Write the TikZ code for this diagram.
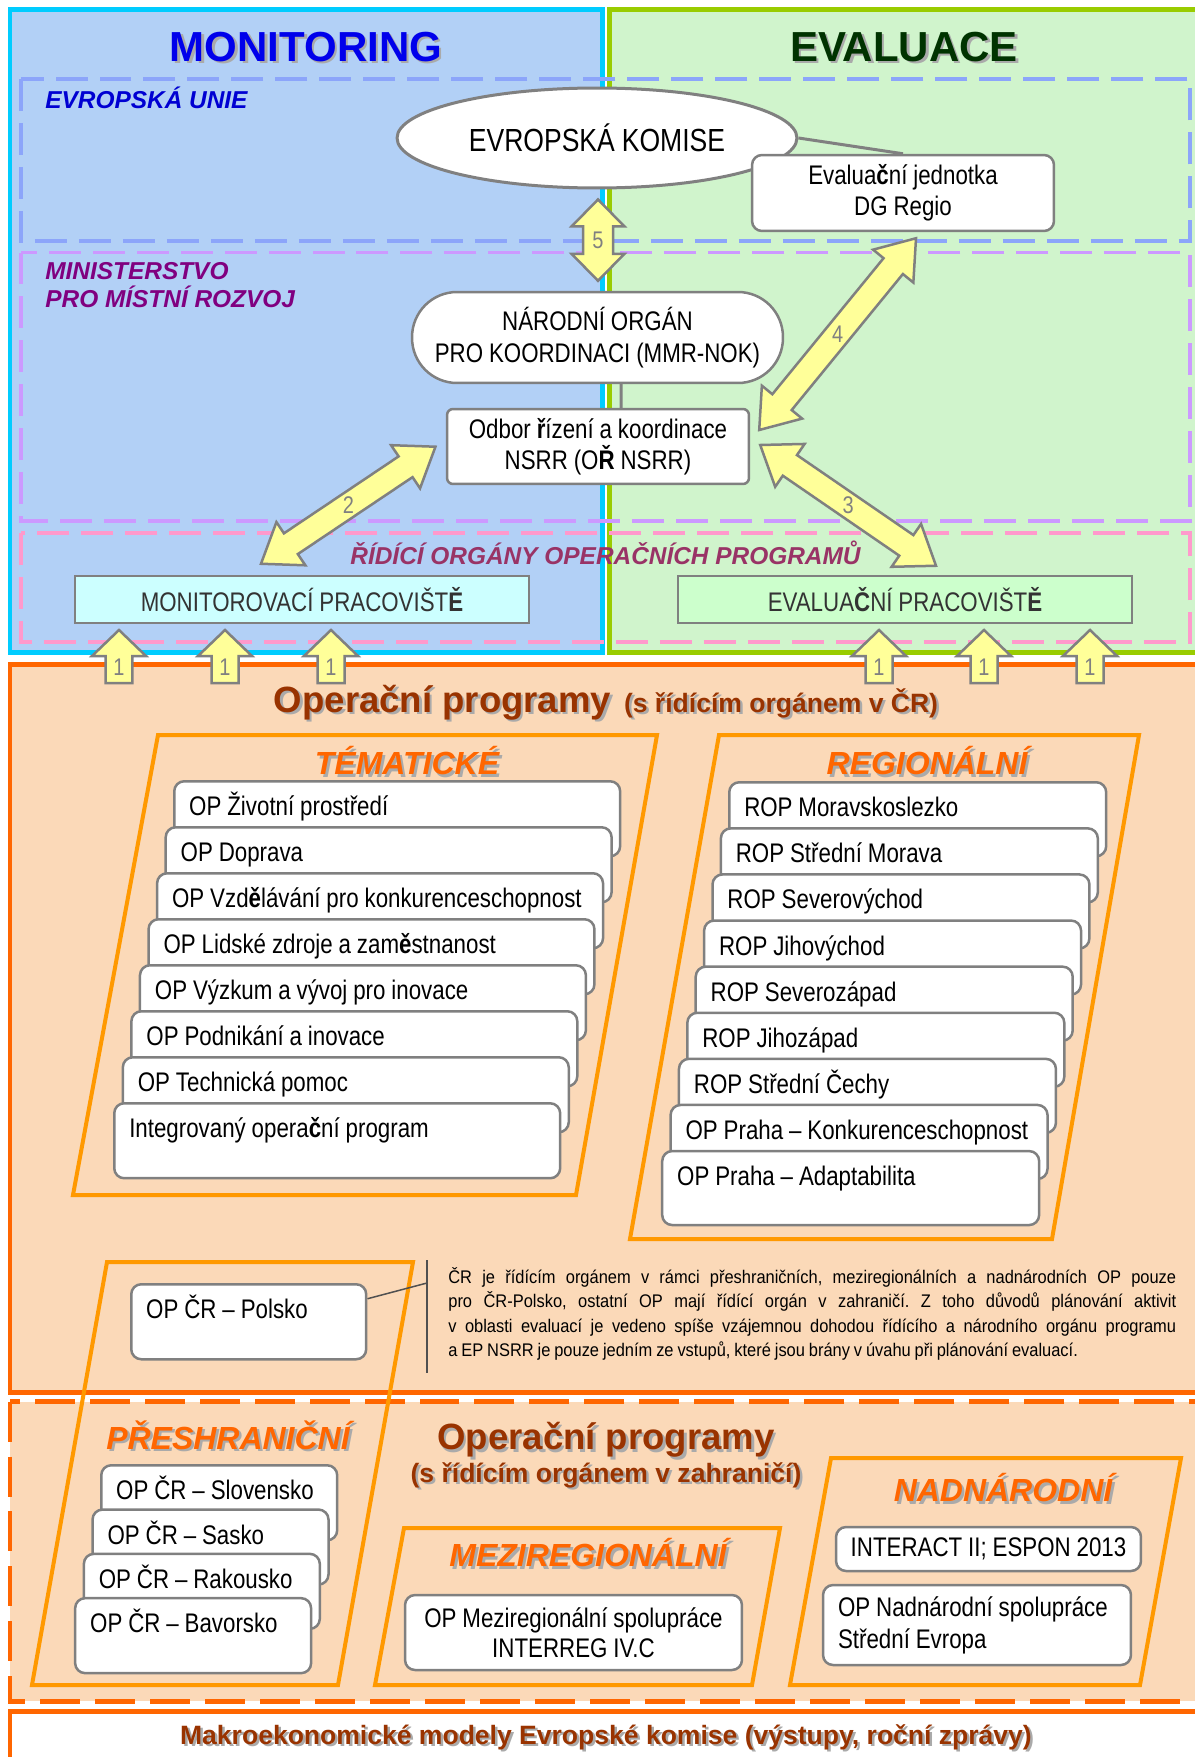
\documentclass[tikz,border=0pt]{standalone}
\usepackage{fontspec}
\setmainfont{Liberation Sans}
\newfontfamily\nf[FakeStretch=0.83,WordSpace=0.95]{Liberation Sans}
\newfontfamily\pf[FakeStretch=0.9,WordSpace=0.85]{Liberation Sans}
\usetikzlibrary{shapes.geometric,calc}
\definecolor{cyanb}{RGB}{0,204,255}
\definecolor{greenb}{RGB}{153,204,0}
\definecolor{orangeb}{RGB}{255,102,0}
\definecolor{paraor}{RGB}{255,153,0}
\definecolor{bluebg}{RGB}{178,208,246}
\definecolor{greenbg}{RGB}{208,244,204}
\definecolor{orangebg}{RGB}{251,217,184}
\definecolor{eudash}{RGB}{140,165,250}
\definecolor{mmrdash}{RGB}{204,153,255}
\definecolor{rodash}{RGB}{255,153,204}
\definecolor{monblue}{RGB}{0,0,235}
\definecolor{evgreen}{RGB}{0,51,0}
\definecolor{eublue}{RGB}{0,0,210}
\definecolor{mmrpurple}{RGB}{128,0,128}
\definecolor{ropink}{RGB}{153,51,102}
\definecolor{headorange}{RGB}{255,102,0}
\definecolor{opbrown}{RGB}{153,51,0}
\definecolor{boxgray}{RGB}{128,128,128}
\definecolor{arrfill}{RGB}{255,255,153}
\definecolor{shgray}{RGB}{170,170,170}
\definecolor{moncyan}{RGB}{204,255,255}
\definecolor{evfill}{RGB}{204,255,204}
\definecolor{txtgray}{RGB}{51,51,51}
\definecolor{bargray}{RGB}{80,80,80}

\newcommand\blkarrow[6]{%
  \path (#1); \pgfgetlastxy{\ax}{\ay}%
  \path (#2); \pgfgetlastxy{\bx}{\by}%
  \pgfmathsetmacro\aang{atan2(\by-\ay,\bx-\ax)}%
  \pgfmathsetmacro\alen{veclen(\bx-\ax,\by-\ay)}%
  \pgfmathsetmacro\ahl{#3*0.569055}%
  \pgfmathsetmacro\ahw{#4*0.569055}%
  \pgfmathsetmacro\asw{#5*0.569055}%
  \pgfmathsetmacro\alb{\alen-\ahl}%
  \begin{scope}[shift={(\ax,\ay)}, rotate=\aang]
  \ifnum#6=1
   \draw[blockarr] (0pt,0pt) -- (\ahl pt,\ahw pt) -- (\ahl pt,\asw pt) -- (\alb pt,\asw pt) -- (\alb pt,\ahw pt) -- (\alen pt,0pt) -- (\alb pt,-\ahw pt) -- (\alb pt,-\asw pt) -- (\ahl pt,-\asw pt) -- (\ahl pt,-\ahw pt) -- cycle;
  \else
   \draw[blockarr] (0pt,\asw pt) -- (\alb pt,\asw pt) -- (\alb pt,\ahw pt) -- (\alen pt,0pt) -- (\alb pt,-\ahw pt) -- (\alb pt,-\asw pt) -- (0pt,-\asw pt) -- cycle;
  \fi
  \end{scope}}

\newcommand\shnode[5]{%
  \node[#2,text=shgray] (#1-sh) at ($(#3,#4)+(2.5,2.5)$) {#5};
  \node[#2] (#1) at (#3,#4) {#5};}

\begin{document}
\begin{tikzpicture}[x=0.02cm, y=-0.02cm,
  title/.style={font=\fontsize{23.9pt}{28pt}\selectfont\bfseries, inner sep=0pt},
  seclab/.style={font=\fontsize{13.9pt}{15.9pt}\selectfont\bfseries\itshape, inner sep=0pt},
  topbox/.style={draw=boxgray, fill=white, line width=0.05cm, align=center, inner sep=0pt, font=\nf\fontsize{15.3pt}{17.8pt}\selectfont},
  conn/.style={draw=boxgray, line width=0.06cm},
  prac/.style={draw=boxgray, line width=0.05cm, minimum width=9.08cm, minimum height=0.94cm, inner sep=0pt, text=txtgray, font=\nf\fontsize{15.3pt}{18pt}\selectfont},
  blockarr/.style={draw=boxgray, fill=arrfill, line width=0.05cm, line join=miter},
  arrlab/.style={text=boxgray, font=\nf\fontsize{13.7pt}{16pt}\selectfont, inner sep=0pt},
  para/.style={draw=paraor, line width=0.08cm, line join=miter},
  cathead/.style={text=headorange, font=\fontsize{18.2pt}{22pt}\selectfont\bfseries\itshape, inner sep=0pt},
  optitle/.style={text=opbrown, font=\bfseries, inner sep=0pt},
  stackbox/.style={draw=boxgray, fill=white, line width=0.05cm, rounded corners=0.2cm, anchor=north west, inner xsep=0.3cm, inner ysep=0pt, align=flush left, text height=0.69cm, font=\nf\fontsize{15.3pt}{17.6pt}\selectfont},
  thbox/.style={stackbox, text width=8.32cm, text depth=0.81cm},
  rgbox/.style={stackbox, text width=6.94cm, text depth=0.79cm},
  prbox/.style={stackbox, text width=4.12cm, text depth=0.81cm},
  dashpat/.style={line width=0.08cm, dash pattern=on 0.64cm off 0.24cm}
]
\useasboundingbox (0,0) rectangle (1195,1757);
\clip (0,0) rectangle (1195,1757);
\fill[white] (0,0) rectangle (1195,1757);

% ---------- panels ----------
\draw[draw=cyanb, line width=0.1cm, fill=bluebg] (10,10) rectangle (602,652.5);
\draw[draw=greenb, line width=0.1cm, fill=greenbg] (609.5,10) rectangle (1200,652.5);
\draw[draw=orangeb, line width=0.1cm, fill=orangebg] (10,664.5) rectangle (1200,1392.5);
\draw[draw=orangeb, line width=0.1cm, fill=orangebg, dash pattern=on 0.8cm off 0.3cm] (10,1401.5) rectangle (1200,1701);
\draw[draw=orangeb, line width=0.1cm, fill=white] (10,1711.5) rectangle (1200,1800);

% ---------- dashed level frames ----------
\draw[dashpat, draw=eudash] (21,79) rectangle (1190,241);
\draw[dashpat, draw=mmrdash] (21,252.5) rectangle (1190,521);
\draw[dashpat, draw=rodash] (21,533) rectangle (1190,642);

% ---------- titles ----------
\shnode{montitle}{title, text=monblue}{306}{47}{MONITORING}
\shnode{evtitle}{title, text=evgreen}{904}{47}{EVALUACE}
\node[seclab, text=eublue, anchor=west] (eu) at (45,98) {EVROPSKÁ UNIE};
\node[seclab, text=mmrpurple, anchor=west, align=left] (mmr) at (45,285) {MINISTERSTVO\\PRO MÍSTNÍ ROZVOJ};
\node[seclab, text=ropink] (ro) at (605.5,553) {ŘÍDÍCÍ ORGÁNY OPERAČNÍCH PROGRAMŮ};

% ---------- top nodes ----------
\node[ellipse, draw=boxgray, line width=0.06cm, fill=white, minimum width=8cm, minimum height=2cm, inner sep=0pt, font=\nf\fontsize{18.2pt}{22pt}\selectfont] (ek) at (597,138) {EVROPSKÁ KOMISE};
\node[topbox, rounded corners=0.2cm, minimum width=6.04cm, minimum height=1.52cm] (ej) at (903,193) {Evalua\textbf{č}ní jednotka\\DG Regio};
\draw[conn] (ek.east) -- (ej.north);
\node[topbox, rounded corners=0.9cm, minimum width=7.42cm, minimum height=1.82cm] (nok) at (597.5,337.5) {NÁRODNÍ ORGÁN\\PRO KOORDINACI (MMR-NOK)};
\node[topbox, rounded corners=0.12cm, minimum width=6.04cm, minimum height=1.5cm] (odbor) at (598,446.5) {Odbor \textbf{ř}ízení a koordinace\\NSRR (O\textbf{Ř} NSRR)};
\draw[conn] ($(nok.south)+(23.5,0)$) -- ($(odbor.north)+(23,0)$);

\node[prac, fill=moncyan] (monp) at (302,599.5) {MONITOROVACÍ PRACOVIŠT\textbf{Ě}};
\node[prac, fill=evfill] (evp) at (905,599.5) {EVALUA\textbf{Č}NÍ PRACOVIŠT\textbf{Ě}};

% ---------- block arrows ----------
\coordinate (a5a) at ($(ek.south)+(1,10)$);
\coordinate (a5b) at ($(nok.north)+(0.5,-10)$);
\coordinate (a2a) at ($(monp.north)+(-41,-11)$);
\coordinate (a2b) at ($(odbor.west)+(-10,0)$);
\coordinate (a3a) at ($(odbor.east)+(10,-1.5)$);
\coordinate (a3b) at ($(evp.north)+(31,-9)$);
\coordinate (a4a) at ($(odbor.east)+(9,-16.5)$);
\coordinate (a4b) at ($(ej.south)+(13,6)$);
\blkarrow{a5a}{a5b}{27}{26.5}{15}{1}
\blkarrow{a2a}{a2b}{36}{26}{12.5}{1}
\blkarrow{a3a}{a3b}{36}{26}{12.5}{1}
\blkarrow{a4a}{a4b}{36}{26}{12.5}{1}
\node[arrlab] (l5) at ($(a5a)!0.5!(a5b)$) {5};
\node[arrlab] (l2) at ($(a2a)!0.5!(a2b)$) {2};
\node[arrlab] (l3) at ($(a3a)!0.5!(a3b)$) {3};
\node[arrlab] (l4) at ($(a4a)!0.5!(a4b)$) {4};

\foreach \i/\xx in {1/119,2/225,3/331,4/879,5/984,6/1090}{
  \coordinate (ua\i) at (\xx,683);
  \coordinate (ub\i) at (\xx,630);
  \blkarrow{ua\i}{ub\i}{26}{27}{13.5}{0}
  \node[arrlab] (l1-\i) at (\xx,667) {1};
}

% ---------- OP s ŘO v ČR ----------
\shnode{op1}{optitle, anchor=base}{606}{712}{{\fontsize{20.8pt}{25pt}\selectfont Operační programy}\hspace{0.26cm}{\fontsize{15.1pt}{18pt}\selectfont (s řídícím orgánem v ČR)}}

\draw[para] (158,735) -- (657,735) -- (576,1195) -- (73,1195) -- cycle;
\shnode{tem}{cathead}{407}{761}{TÉMATICKÉ}
\foreach \i/\t in {0/{OP Životní prostředí},1/{OP Doprava},2/{OP Vzd\textbf{ě}lávání pro konkurenceschopnost},3/{OP Lidské zdroje a zam\textbf{ě}stnanost},4/{OP Výzkum a vývoj pro inovace},5/{OP Podnikání a inovace},6/{OP Technická pomoc},7/{Integrovaný opera\textbf{č}ní program}}{
  \node[thbox] (tb\i) at ({173-8.57*\i},{780+46*\i}) {\t};
}

\draw[para] (719,735) -- (1139,735) -- (1052,1239) -- (630,1239) -- cycle;
\shnode{reg}{cathead}{927}{761}{REGIONÁLNÍ}
\foreach \i/\t in {0/{ROP Moravskoslezko},1/{ROP Střední Morava},2/{ROP Severovýchod},3/{ROP Jihovýchod},4/{ROP Severozápad},5/{ROP Jihozápad},6/{ROP Střední Čechy},7/{OP Praha – Konkurenceschopnost},8/{OP Praha – Adaptabilita}}{
  \node[rgbox] (rb\i) at ({728-8.38*\i},{781+46.1*\i}) {\t};
}

% ---------- cross-border ----------
\draw[para] (107,1262) -- (413,1262) -- (338,1685) -- (32,1685) -- cycle;
\node[stackbox, text width=4.1cm, text depth=0.81cm] (pol) at (130,1283) {OP ČR – Polsko};
\coordinate (barT) at (427,1260);
\coordinate (barB) at (427,1373);
\coordinate (barM) at (427,1283);
\draw[bargray, line width=0.03cm] (barT) -- (barB);
\draw[bargray, line width=0.03cm] ($(pol.east)+(0,-23)$) -- (barM);
\node[anchor=north west, text width=14.56cm, align=justify, inner sep=0pt, font=\pf\fontsize{10.4pt}{13.9pt}\selectfont\frenchspacing] (expl) at (448,1267) {ČR je řídícím orgánem v rámci přeshraničních, meziregionálních a nadnárodních OP pouze\linebreak pro ČR-Polsko, ostatní OP mají řídící orgán v zahraničí. Z toho důvodů plánování aktivit\linebreak v oblasti evaluací je vedeno spíše vzájemnou dohodou řídícího a národního orgánu programu\linebreak a EP NSRR je pouze jedním ze vstupů, které jsou brány v úvahu při plánování evaluací.};

\shnode{pres}{cathead}{228}{1435}{PŘESHRANIČNÍ}
\foreach \i/\t in {0/{OP ČR – Slovensko},1/{OP ČR – Sasko},2/{OP ČR – Rakousko},3/{OP ČR – Bavorsko}}{
  \node[prbox] (pb\i) at ({100-8.7*\i},{1464+44.3*\i}) {\t};
}

% ---------- OP s ŘO v zahraničí ----------
\shnode{op2a}{optitle, font=\fontsize{20.8pt}{25pt}\selectfont\bfseries}{606}{1440}{Operační programy}
\shnode{op2b}{optitle, font=\fontsize{15.1pt}{18pt}\selectfont\bfseries}{606}{1475}{(s řídícím orgánem v zahraničí)}

\draw[para] (404,1528) -- (780,1528) -- (752,1685) -- (375,1685) -- cycle;
\shnode{mez}{cathead}{588}{1553}{MEZIREGIONÁLNÍ}
\node[topbox, rounded corners=0.2cm, minimum width=6.74cm, minimum height=1.5cm, font=\nf\fontsize{15.3pt}{17pt}\selectfont] (mezb) at (573.5,1632.5) {OP Meziregionální spolupráce\\INTERREG IV.C};

\draw[para] (831,1458) -- (1181,1458) -- (1140,1685) -- (790,1685) -- cycle;
\shnode{nad}{cathead}{1003}{1488}{NADNÁRODNÍ}
\node[topbox, rounded corners=0.2cm, minimum width=6.1cm, minimum height=0.88cm] (intb) at (988.5,1549) {INTERACT II; ESPON 2013};
\node[topbox, rounded corners=0.2cm, minimum width=6.16cm, minimum height=1.6cm, align=flush left, text width=5.56cm, inner xsep=0.3cm, font=\nf\fontsize{15.3pt}{18.1pt}\selectfont] (nadb) at (977,1625) {OP Nadnárodní spolupráce\\Střední Evropa};

% ---------- bottom ----------
\shnode{makro}{optitle, font=\fontsize{15.1pt}{18pt}\selectfont\bfseries}{606}{1737}{Makroekonomické modely Evropské komise (výstupy, roční zprávy)}
\end{tikzpicture}
\end{document}
